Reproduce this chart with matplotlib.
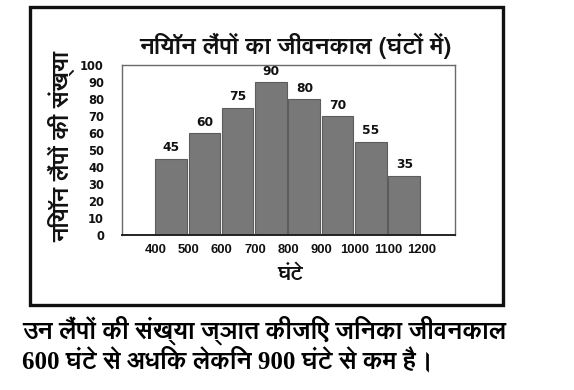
import matplotlib
matplotlib.use("Agg")
import matplotlib.pyplot as plt
from matplotlib import font_manager
from matplotlib.patches import Rectangle
from matplotlib.ft2font import FT2Font

# ---- data ----
bin_edges = [400, 500, 600, 700, 800, 900, 1000, 1100, 1200]
counts = [45, 60, 75, 90, 80, 70, 55, 35]
y_ticks = [0, 10, 20, 30, 40, 50, 60, 70, 80, 90, 100]
title = "नियॉन लैंपों का जीवनकाल (घंटों में)"
y_label = "नियॉन लैंपों की संख्या"
x_label = "घंटे"
question_1 = "उन लैंपों की संख्या ज्ञात कीजिए जिनका जीवनकाल"
question_2 = "600 घंटे से अधिक लेकिन 900 घंटे से कम है।"

# find fonts with Devanagari glyphs, prefer a family that has a bold face
cands = {}
for f in font_manager.fontManager.ttflist:
    try:
        if ord("न") in FT2Font(f.fname).get_charmap():
            w = f.weight if isinstance(f.weight, int) else 400
            cands.setdefault(f.name, set()).add(w)
    except Exception:
        pass
deva = None
for name, ws in cands.items():
    if any(w >= 600 for w in ws):
        deva = name
        break
if deva is None and cands:
    deva = next(iter(cands))
dv = [deva] if deva else []
plt.rcParams["font.family"] = dv + ["DejaVu Sans"]

fig = plt.figure(figsize=(5.74, 3.90), dpi=100)
fig.patch.set_facecolor("white")

# outer frame
fig.add_artist(Rectangle((0.052, 0.218), 0.824, 0.764, transform=fig.transFigure,
                         fill=False, lw=2.4, ec="#111111"))

ax = fig.add_axes([0.2125, 0.397, 0.580, 0.436])
lefts = bin_edges[:-1]
widths = [b - a for a, b in zip(bin_edges[:-1], bin_edges[1:])]
ax.bar(lefts, counts, width=[w * 0.95 for w in widths], align="edge",
       color="#787878", edgecolor="#5c5c5c", linewidth=0.8)
for x, w, c in zip(lefts, widths, counts):
    ax.text(x + w * 0.48, c + 2.5, str(c), ha="center", va="bottom",
            fontsize=8.8, fontweight="bold", family="DejaVu Sans", color="#111111")

ax.set_xlim(300, 1300)
ax.set_ylim(0, 100)
ax.set_xticks(bin_edges)
ax.set_xticklabels([str(e) for e in bin_edges], fontsize=9.4, fontweight="bold",
                   family="Liberation Sans")
ax.set_yticks(y_ticks)
ax.set_yticklabels([str(t) for t in y_ticks], fontsize=8.3, fontweight="bold",
                   family="DejaVu Sans")
ax.tick_params(axis="both", length=0, colors="#111111")
ax.tick_params(axis="y", pad=13)
ax.tick_params(axis="x", pad=6)
for s in ["left", "right", "top"]:
    ax.spines[s].set_color("#6a6a6a")
    ax.spines[s].set_linewidth(1.0)
ax.spines["bottom"].set_color("#222222")
ax.spines["bottom"].set_linewidth(1.4)

fig.text(0.515, 0.882, title, ha="center", va="center", fontsize=17.5,
         fontweight="bold", color="#111111")
fig.text(0.108, 0.625, y_label, ha="center", va="center", rotation=90,
         fontsize=17, fontweight="bold", color="#111111")
fig.text(0.505, 0.295, x_label, ha="center", va="center", fontsize=15,
         fontweight="bold", color="#111111")
fig.text(0.038, 0.154, question_1, ha="left", va="center", fontsize=18,
         fontweight="bold", color="#000000",
         family=["Liberation Serif"] + dv)
fig.text(0.038, 0.077, question_2, ha="left", va="center", fontsize=18,
         fontweight="bold", color="#000000",
         family=["Liberation Serif"] + dv)

fig.savefig("out.png", dpi=100, facecolor="white")
